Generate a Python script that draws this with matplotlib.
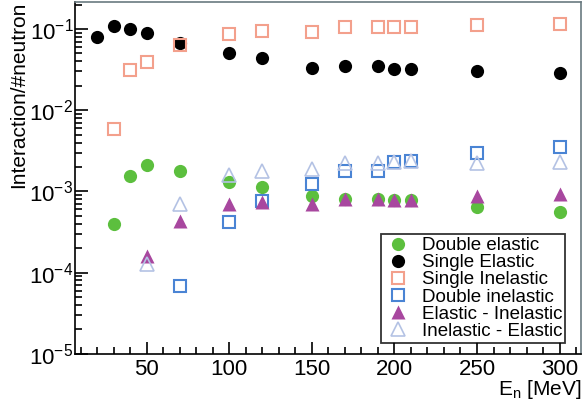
import matplotlib

matplotlib.use("Agg")
import matplotlib.pyplot as plt
import numpy as np
from matplotlib.ticker import LogLocator, MultipleLocator

plt.rcParams["font.family"] = ["Liberation Sans", "DejaVu Sans"]
plt.rcParams["mathtext.default"] = "regular"

# energies [MeV]
e_single_el = [20, 30, 40, 50, 70, 100, 120, 150, 170, 190, 200, 210, 250, 300]
single_el = [0.079, 0.108, 0.100, 0.089, 0.068, 0.051, 0.044, 0.033, 0.035, 0.035, 0.032, 0.032, 0.030, 0.029]

e_single_inel = [30, 40, 50, 70, 100, 120, 150, 170, 190, 200, 210, 250, 300]
single_inel = [0.0058, 0.031, 0.039, 0.064, 0.088, 0.094, 0.091, 0.105, 0.105, 0.105, 0.105, 0.111, 0.115]

e_double_el = [30, 40, 50, 70, 100, 120, 150, 170, 190, 200, 210, 250, 300]
double_el = [0.0004, 0.00155, 0.0021, 0.0018, 0.0013, 0.00114, 0.00087, 0.00081, 0.0008, 0.00079, 0.00079, 0.00065, 0.00056]

e_double_inel = [70, 100, 120, 150, 170, 190, 200, 210, 250, 300]
double_inel = [6.8e-5, 0.00042, 0.00077, 0.00123, 0.00178, 0.00178, 0.0023, 0.0024, 0.0030, 0.0035]

e_el_inel = [50, 70, 100, 120, 150, 170, 190, 200, 210, 250, 300]
el_inel = [0.00016, 0.00043, 0.0007, 0.00075, 0.0007, 0.00081, 0.00081, 0.00079, 0.00079, 0.00088, 0.00094]

e_inel_el = [50, 70, 100, 120, 150, 170, 190, 200, 210, 250, 300]
inel_el = [0.000127, 0.0007, 0.0016, 0.0018, 0.00187, 0.00226, 0.00226, 0.0023, 0.0024, 0.00226, 0.0023]

fig = plt.figure(figsize=(5.84, 4.03), dpi=100)
ax = fig.add_axes([0.128, 0.122, 0.867, 0.873])

ms = 9.5
ax.plot(e_double_el, double_el, "o", color="#5cbf3e", ms=ms, mec="none", label="Double elastic")
ax.plot(e_single_el, single_el, "o", color="black", ms=ms, mec="none", label="Single Elastic")
ax.plot(e_single_inel, single_inel, "s", mfc="none", mec="#f3a08c", mew=1.5, ms=ms - 0.5, label="Single Inelastic")
ax.plot(e_double_inel, double_inel, "s", mfc="none", mec="#4a84d4", mew=1.5, ms=ms - 0.5, label="Double inelastic")
ax.plot(e_el_inel, el_inel, "^", color="#a8479f", mec="none", ms=ms, label="Elastic - Inelastic")
ax.plot(e_inel_el, inel_el, "^", mfc="none", mec="#b4c2e4", mew=1.2, ms=ms, label="Inelastic - Elastic")

ax.set_yscale("log")
ax.set_xlim(6.5, 313)
ax.set_ylim(1e-5, 0.215)

ax.xaxis.set_major_locator(MultipleLocator(50))
ax.xaxis.set_minor_locator(MultipleLocator(10))
ax.yaxis.set_major_locator(LogLocator(base=10, numticks=10))
ax.yaxis.set_minor_locator(LogLocator(base=10, subs=np.arange(2, 10), numticks=20))
ax.tick_params(which="both", direction="in", top=False, right=False, labelsize=16, width=1.2)
ax.tick_params(axis="x", which="major", pad=4)
ax.tick_params(axis="y", which="major", pad=1)
ax.tick_params(which="major", length=9)
ax.tick_params(which="minor", length=5)
for s in ax.spines.values():
    s.set_linewidth(1.2)
ax.spines["right"].set_color("#6a7a80")
ax.spines["top"].set_color("#6a7a80")

ax.set_ylabel("Interaction/#neutron", fontsize=15, loc="top", labelpad=1)
ax.set_xlabel(r"E$_{n}$ [MeV]", fontsize=15, loc="right", labelpad=-1.5)

leg = ax.legend(loc="lower right", bbox_to_anchor=(0.968, 0.032), fontsize=13.5, frameon=True,
                fancybox=False, edgecolor="black", labelspacing=0.0, handletextpad=0.5,
                borderpad=0.15, handlelength=1.5, borderaxespad=0)
leg.get_frame().set_linewidth(1.3)

fig.savefig("out.png", dpi=100)
